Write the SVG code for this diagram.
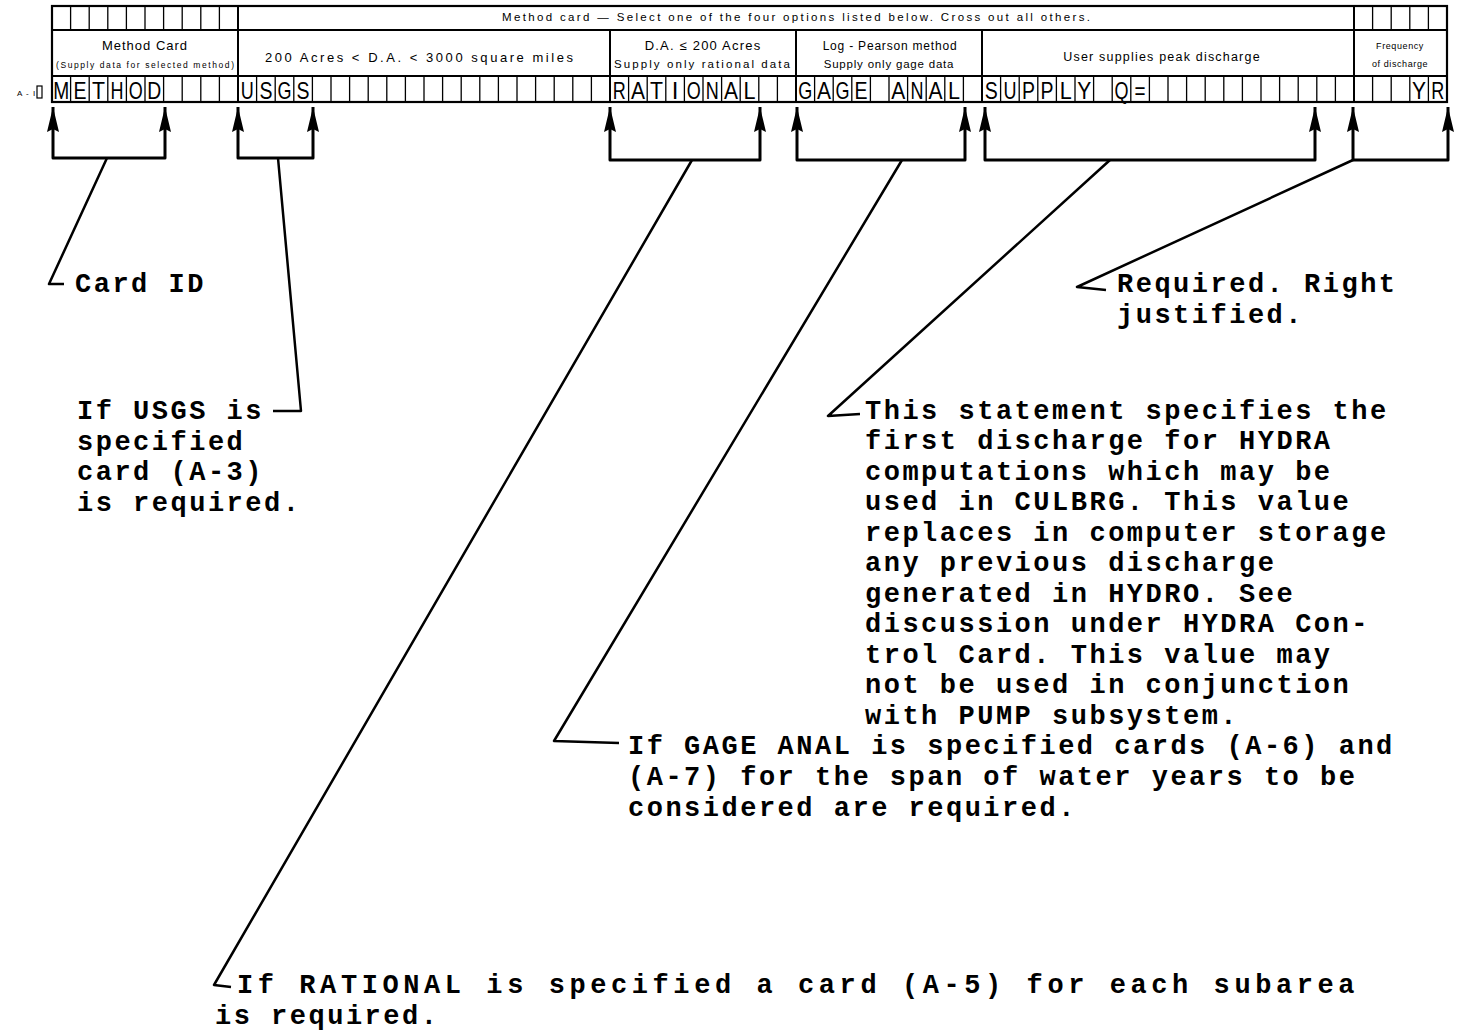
<svg xmlns="http://www.w3.org/2000/svg" width="1462" height="1033" viewBox="0 0 1462 1033">
<defs>
<style>
.frame{fill:none;stroke:#000;stroke-width:2.2}
.thin{fill:none;stroke:#000;stroke-width:1.3}
.sec{fill:none;stroke:#000;stroke-width:2}
.hdr{font-family:"Liberation Sans",Arial,sans-serif;fill:#000}
.big{font-family:"Liberation Sans",Arial,sans-serif;font-size:24px;fill:#000;text-anchor:middle}
.tw{font-family:"Liberation Mono","Courier New",monospace;font-weight:bold;font-size:27px;letter-spacing:2.5px;fill:#000}
.br{fill:none;stroke:#000;stroke-width:3;stroke-linejoin:round;marker-start:url(#ah);marker-end:url(#ah)}
.ld{fill:none;stroke:#000;stroke-width:2.5;stroke-linejoin:round}
</style>
<marker id="ah" markerUnits="userSpaceOnUse" markerWidth="28" markerHeight="14" refX="25" refY="7" orient="auto-start-reverse">
<path d="M0,1 L25,7 L0,13 L3,7 Z" fill="#000"/>
</marker>
</defs>

<g id="card">
<rect class="frame" x="52" y="6" width="1395" height="96"/>
<path class="sec" d="M52,30 H1447 M52,76 H1447 M238,6 V102 M610,30 V102 M796,30 V102 M982,30 V102 M1354,6 V102"/>
<path class="thin" d="M70.6,6V30 M89.2,6V30 M107.8,6V30 M126.4,6V30 M145,6V30 M163.6,6V30 M182.2,6V30 M200.8,6V30 M219.4,6V30 M1372.6,6V30 M1391.2,6V30 M1409.8,6V30 M1428.4,6V30"/>
<path class="thin" d="M70.6,76V102 M89.2,76V102 M107.8,76V102 M126.4,76V102 M145,76V102 M163.6,76V102 M182.2,76V102 M200.8,76V102 M219.4,76V102 M256.6,76V102 M275.2,76V102 M293.8,76V102 M312.4,76V102 M331,76V102 M349.6,76V102 M368.2,76V102 M386.8,76V102 M405.4,76V102 M424,76V102 M442.6,76V102 M461.2,76V102 M479.8,76V102 M498.4,76V102 M517,76V102 M535.6,76V102 M554.2,76V102 M572.8,76V102 M591.4,76V102 M628.6,76V102 M647.2,76V102 M665.8,76V102 M684.4,76V102 M703,76V102 M721.6,76V102 M740.2,76V102 M758.8,76V102 M777.4,76V102 M814.6,76V102 M833.2,76V102 M851.8,76V102 M870.4,76V102 M889,76V102 M907.6,76V102 M926.2,76V102 M944.8,76V102 M963.4,76V102 M1000.6,76V102 M1019.2,76V102 M1037.8,76V102 M1056.4,76V102 M1075,76V102 M1093.6,76V102 M1112.2,76V102 M1130.8,76V102 M1149.4,76V102 M1168,76V102 M1186.6,76V102 M1205.2,76V102 M1223.8,76V102 M1242.4,76V102 M1261,76V102 M1279.6,76V102 M1298.2,76V102 M1316.8,76V102 M1335.4,76V102 M1372.6,76V102 M1391.2,76V102 M1409.8,76V102 M1428.4,76V102"/>
<text class="hdr" x="502" y="21" font-size="11.5" textLength="588" lengthAdjust="spacing">Method card — Select one of the four options listed below. Cross out all others.</text>
<text class="hdr" x="145" y="50" font-size="13" text-anchor="middle" letter-spacing="1">Method  Card</text>
<text class="hdr" x="145" y="68" font-size="8.5" text-anchor="middle" textLength="178" lengthAdjust="spacing">(Supply data for selected method)</text>
<text class="hdr" x="265" y="62" font-size="13" textLength="308" lengthAdjust="spacing">200 Acres &lt; D.A. &lt; 3000 square miles</text>
<text class="hdr" x="703" y="50" font-size="13" text-anchor="middle" letter-spacing="1.2">D.A.  ≤  200 Acres</text>
<text class="hdr" x="614" y="68" font-size="11.5" textLength="176" lengthAdjust="spacing">Supply only rational data</text>
<text class="hdr" x="890" y="50" font-size="12" text-anchor="middle" letter-spacing="0.8">Log - Pearson method</text>
<text class="hdr" x="889" y="68" font-size="11.5" text-anchor="middle" letter-spacing="0.8">Supply only gage data</text>
<text class="hdr" x="1162" y="61" font-size="12.5" text-anchor="middle" letter-spacing="1.2">User supplies peak discharge</text>
<text class="hdr" x="1400" y="49" font-size="9" text-anchor="middle" letter-spacing="0.6">Frequency</text>
<text class="hdr" x="1400" y="67" font-size="9" text-anchor="middle" letter-spacing="0.6">of discharge</text>
<g class="big">
<text x="61.3" y="99" textLength="16" lengthAdjust="spacingAndGlyphs">M</text><text x="79.9" y="99" textLength="13" lengthAdjust="spacingAndGlyphs">E</text><text x="98.5" y="99" textLength="13" lengthAdjust="spacingAndGlyphs">T</text><text x="117.1" y="99" textLength="13" lengthAdjust="spacingAndGlyphs">H</text><text x="135.7" y="99" textLength="14" lengthAdjust="spacingAndGlyphs">O</text><text x="154.3" y="99" textLength="14" lengthAdjust="spacingAndGlyphs">D</text>
<text x="247.3" y="99" textLength="13" lengthAdjust="spacingAndGlyphs">U</text><text x="265.9" y="99" textLength="13" lengthAdjust="spacingAndGlyphs">S</text><text x="284.5" y="99" textLength="14" lengthAdjust="spacingAndGlyphs">G</text><text x="303.1" y="99" textLength="13" lengthAdjust="spacingAndGlyphs">S</text>
<text x="619.3" y="99" textLength="13" lengthAdjust="spacingAndGlyphs">R</text><text x="637.9" y="99" textLength="14" lengthAdjust="spacingAndGlyphs">A</text><text x="656.5" y="99" textLength="13" lengthAdjust="spacingAndGlyphs">T</text><text x="675.1" y="99">I</text><text x="693.7" y="99" textLength="14" lengthAdjust="spacingAndGlyphs">O</text><text x="712.3" y="99" textLength="13" lengthAdjust="spacingAndGlyphs">N</text><text x="730.9" y="99" textLength="14" lengthAdjust="spacingAndGlyphs">A</text><text x="749.5" y="99" textLength="12" lengthAdjust="spacingAndGlyphs">L</text>
<text x="805.3" y="99" textLength="14" lengthAdjust="spacingAndGlyphs">G</text><text x="823.9" y="99" textLength="14" lengthAdjust="spacingAndGlyphs">A</text><text x="842.5" y="99" textLength="14" lengthAdjust="spacingAndGlyphs">G</text><text x="861.1" y="99" textLength="13" lengthAdjust="spacingAndGlyphs">E</text><text x="898.3" y="99" textLength="14" lengthAdjust="spacingAndGlyphs">A</text><text x="916.9" y="99" textLength="13" lengthAdjust="spacingAndGlyphs">N</text><text x="935.5" y="99" textLength="14" lengthAdjust="spacingAndGlyphs">A</text><text x="954.1" y="99" textLength="12" lengthAdjust="spacingAndGlyphs">L</text>
<text x="991.3" y="99" textLength="13" lengthAdjust="spacingAndGlyphs">S</text><text x="1009.9" y="99" textLength="13" lengthAdjust="spacingAndGlyphs">U</text><text x="1028.5" y="99" textLength="13" lengthAdjust="spacingAndGlyphs">P</text><text x="1047.1" y="99" textLength="13" lengthAdjust="spacingAndGlyphs">P</text><text x="1065.7" y="99" textLength="12" lengthAdjust="spacingAndGlyphs">L</text><text x="1084.3" y="99" textLength="14" lengthAdjust="spacingAndGlyphs">Y</text><text x="1121.5" y="99" textLength="14" lengthAdjust="spacingAndGlyphs">Q</text><text x="1140.1" y="99" textLength="11" lengthAdjust="spacingAndGlyphs">=</text>
<text x="1419.1" y="99" textLength="14" lengthAdjust="spacingAndGlyphs">Y</text><text x="1437.7" y="99" textLength="13" lengthAdjust="spacingAndGlyphs">R</text>
</g>
<text class="hdr" x="17" y="96" font-size="8" letter-spacing="1">A - I</text>
<rect x="37" y="86" width="5" height="12" fill="none" stroke="#000" stroke-width="1.2"/>
</g>

<g id="connectors">
<path class="br" d="M53,107 V158 H165 V107"/>
<path class="br" d="M238,107 V158 H313 V107"/>
<path class="br" d="M610,107 V160 H760 V107"/>
<path class="br" d="M797,107 V160 H965 V107"/>
<path class="br" d="M985,107 V160 H1315 V107"/>
<path class="br" d="M1353,107 V160 H1448 V107"/>
<polyline class="ld" points="107,158 49,284 64,284"/>
<polyline class="ld" points="278,158 301,411 273,411"/>
<polyline class="ld" points="692,160 214,985 231,987"/>
<polyline class="ld" points="902,160 554,741 619,743"/>
<polyline class="ld" points="1110,160 828,416 860,414"/>
<polyline class="ld" points="1353,160 1077,287 1106,290"/>
</g>

<g id="note-cardid">
<text class="tw" x="75" y="292">Card ID</text>
</g>
<g id="note-usgs">
<text class="tw" x="77" y="419">If USGS is</text>
<text class="tw" x="77" y="450">specified</text>
<text class="tw" x="77" y="480">card (A-3)</text>
<text class="tw" x="77" y="511">is required.</text>
</g>
<g id="note-required">
<text class="tw" x="1117" y="292">Required. Right</text>
<text class="tw" x="1117" y="323">justified.</text>
</g>
<g id="note-supply" xml:space="preserve">
<text class="tw" x="865" y="419">This statement specifies the</text>
<text class="tw" x="865" y="449">first discharge for HYDRA</text>
<text class="tw" x="865" y="480">computations which may be</text>
<text class="tw" x="865" y="510">used in CULBRG.  This value</text>
<text class="tw" x="865" y="541">replaces in computer storage</text>
<text class="tw" x="865" y="571">any previous discharge</text>
<text class="tw" x="865" y="602">generated in HYDRO.  See</text>
<text class="tw" x="865" y="632">discussion under HYDRA Con-</text>
<text class="tw" x="865" y="663">trol Card.  This value may</text>
<text class="tw" x="865" y="693">not be used in conjunction</text>
<text class="tw" x="865" y="724">with PUMP subsystem.</text>
</g>
<g id="note-gage">
<text class="tw" x="628" y="754">If GAGE ANAL is specified cards (A-6) and</text>
<text class="tw" x="628" y="785">(A-7) for the span of water years to be</text>
<text class="tw" x="628" y="816">considered are required.</text>
</g>
<g id="note-rational" xml:space="preserve">
<text class="tw" x="237" y="993" textLength="1120" lengthAdjust="spacing">If RATIONAL  is specified a card (A-5) for each subarea</text>
<text class="tw" x="215" y="1024">is required.</text>
</g>
</svg>
